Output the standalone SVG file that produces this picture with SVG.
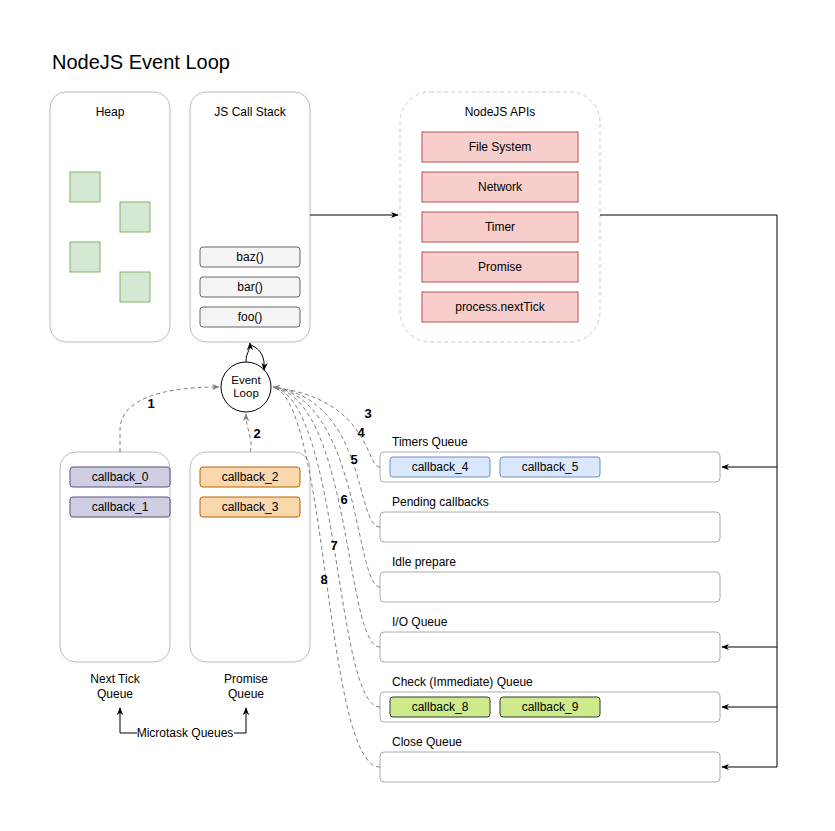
<svg xmlns="http://www.w3.org/2000/svg" width="835" height="831" viewBox="0 0 835 831">
<style>
text{font-family:"Liberation Sans",Arial,sans-serif;font-size:12px;fill:#000}
.c{text-anchor:middle}
.b{font-weight:bold;font-size:13px}
.pan{fill:#fff;stroke:#bbb;stroke-width:1}
.d{fill:none;stroke:#808080;stroke-dasharray:4 3;stroke-width:1}
.s{fill:none;stroke:#000;stroke-width:1}
.q{fill:#fff;stroke:#aaa}
</style>
<defs>
<marker id="a" viewBox="0 0 10 10" refX="9" refY="5" markerWidth="8" markerHeight="8" orient="auto"><path d="M0,1 L10,5 L0,9 L3,5z" fill="#000"/></marker>
<marker id="g" viewBox="0 0 10 10" refX="9" refY="5" markerWidth="8" markerHeight="8" orient="auto"><path d="M0,1 L10,5 L0,9 L3,5z" fill="#808080"/></marker>
</defs>
<rect width="835" height="831" fill="#fff"/>
<text x="52" y="69" style="font-size:20px">NodeJS Event Loop</text>
<g id="heap"><rect class="pan" x="50" y="92" width="120" height="250" rx="16"/><text class="c" x="110" y="116">Heap</text>
<g fill="#d5e8d4" stroke="#82b366"><rect x="70" y="172" width="30" height="30"/><rect x="120" y="202" width="30" height="30"/><rect x="70" y="242" width="30" height="30"/><rect x="120" y="272" width="30" height="30"/></g></g>
<g id="stack"><rect class="pan" x="190" y="92" width="120" height="250" rx="16"/><text class="c" x="250" y="116">JS Call Stack</text>
<g fill="#f5f5f5" stroke="#666"><rect x="200" y="247" width="100" height="20" rx="3"/><rect x="200" y="277" width="100" height="20" rx="3"/><rect x="200" y="307" width="100" height="20" rx="3"/></g>
<text class="c" x="250" y="261">baz()</text><text class="c" x="250" y="291">bar()</text><text class="c" x="250" y="321">foo()</text></g>
<g id="apis"><rect x="400" y="92" width="200" height="250" rx="30" fill="#fff" stroke="#ccc" stroke-dasharray="4 3"/><text class="c" x="500" y="116">NodeJS APIs</text>
<g fill="#f8cecc" stroke="#b85450"><rect x="422" y="132" width="156" height="30"/><rect x="422" y="172" width="156" height="30"/><rect x="422" y="212" width="156" height="30"/><rect x="422" y="252" width="156" height="30"/><rect x="422" y="292" width="156" height="30"/></g>
<text class="c" x="500" y="151">File System</text><text class="c" x="500" y="191">Network</text><text class="c" x="500" y="231">Timer</text><text class="c" x="500" y="271">Promise</text><text class="c" x="500" y="311">process.nextTick</text></g>
<g id="eventloop"><circle cx="246" cy="387" r="25" fill="#fff" stroke="#000"/><text class="c" x="246" y="384" style="font-size:11.5px">Event</text><text class="c" x="246" y="397" style="font-size:11.5px">Loop</text></g>
<g id="nexttick"><rect class="pan" x="60" y="452" width="110" height="210" rx="16"/>
<g fill="#d0cee2" stroke="#56517e"><rect x="70" y="467" width="100" height="20" rx="3"/><rect x="70" y="497" width="100" height="20" rx="3"/></g>
<text class="c" x="120" y="481">callback_0</text><text class="c" x="120" y="511">callback_1</text>
<text class="c" x="115" y="683">Next Tick</text><text class="c" x="115" y="698">Queue</text></g>
<g id="promiseq"><rect class="pan" x="190" y="452" width="120" height="210" rx="16"/>
<g fill="#fad7ac" stroke="#b46504"><rect x="200" y="467" width="100" height="20" rx="3"/><rect x="200" y="497" width="100" height="20" rx="3"/></g>
<text class="c" x="250" y="481">callback_2</text><text class="c" x="250" y="511">callback_3</text>
<text class="c" x="246" y="683">Promise</text><text class="c" x="246" y="698">Queue</text></g>
<g id="macro">
<rect class="q" x="380" y="452" width="340" height="30" rx="4"/><text x="392" y="446">Timers Queue</text>
<g fill="#dae8fc" stroke="#6c8ebf"><rect x="390" y="457" width="100" height="20" rx="3"/><rect x="500" y="457" width="100" height="20" rx="3"/></g>
<text class="c" x="440" y="471">callback_4</text><text class="c" x="550" y="471">callback_5</text>
<rect class="q" x="380" y="512" width="340" height="30" rx="4"/><text x="392" y="506">Pending callbacks</text>
<rect class="q" x="380" y="572" width="340" height="30" rx="4"/><text x="392" y="566">Idle prepare</text>
<rect class="q" x="380" y="632" width="340" height="30" rx="4"/><text x="392" y="626">I/O Queue</text>
<rect class="q" x="380" y="692" width="340" height="30" rx="4"/><text x="392" y="686">Check (Immediate) Queue</text>
<g fill="#cdeb8b" stroke="#36393d"><rect x="390" y="697" width="100" height="20" rx="3"/><rect x="500" y="697" width="100" height="20" rx="3"/></g>
<text class="c" x="440" y="711">callback_8</text><text class="c" x="550" y="711">callback_9</text>
<rect class="q" x="380" y="752" width="340" height="30" rx="4"/><text x="392" y="746">Close Queue</text>
</g>
<g id="connectors">
<path class="s" d="M310,215 H398" marker-end="url(#a)"/>
<path class="s" d="M600,215 H777 V767"/>
<path class="s" d="M777,467 H722" marker-end="url(#a)"/>
<path class="s" d="M777,647 H722" marker-end="url(#a)"/>
<path class="s" d="M777,707 H722" marker-end="url(#a)"/>
<path class="s" d="M777,767 H722" marker-end="url(#a)"/>
<path class="s" d="M246,362 C246,352 250,352 250,343" marker-end="url(#a)"/>
<path class="s" d="M251,345 C262,350 265,358 264,370" marker-end="url(#a)"/>
<path class="d" d="M120,452 V430 C120,400 160,387 219,387" marker-end="url(#g)"/>
<path class="d" d="M250,452 C254,440 246,430 246,414" marker-end="url(#g)"/>
<path class="d" d="M380,467 C365,467 372,400 273,387" marker-end="url(#g)"/>
<path class="d" d="M380,527 C355,527 368,400 273,387"/>
<path class="d" d="M380,587 C355,587 360,400 273,387"/>
<path class="d" d="M380,647 C345,647 352,400 273,387"/>
<path class="d" d="M380,707 C335,707 340,400 273,387"/>
<path class="d" d="M380,767 C325,767 328,400 273,387"/>
<path class="s" d="M137,733 H120 V708" marker-end="url(#a)"/>
<path class="s" d="M234,733 H246 V708" marker-end="url(#a)"/>
</g>
<g id="labels">
<rect x="137" y="726" width="97" height="14" fill="#fff"/><text class="c" x="185" y="737">Microtask Queues</text>
<text class="c b" x="151" y="408">1</text><text class="c b" x="257" y="438">2</text>
<text class="c b" x="368" y="418">3</text><text class="c b" x="361" y="437">4</text><text class="c b" x="354" y="464">5</text>
<text class="c b" x="344" y="504">6</text><text class="c b" x="334" y="550">7</text><text class="c b" x="324" y="584">8</text>
</g>
</svg>
